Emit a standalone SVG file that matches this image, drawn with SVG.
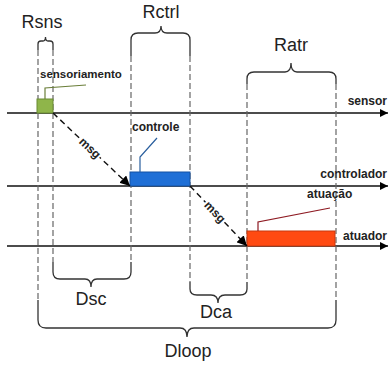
<svg xmlns="http://www.w3.org/2000/svg" width="390" height="365" viewBox="0 0 390 365">
<defs>
<marker id="ah" viewBox="0 0 10 10" refX="10" refY="5" markerWidth="8" markerHeight="8" markerUnits="userSpaceOnUse" orient="auto"><path d="M0,0 L10,5 L0,10 z" fill="#000"/></marker>
<marker id="am" viewBox="0 0 10 10" refX="10" refY="5" markerWidth="10" markerHeight="10" markerUnits="userSpaceOnUse" orient="auto"><path d="M0,0 L10,5 L0,10 z" fill="#000"/></marker>
</defs>
<style>
.big{font-family:"Liberation Sans",Arial,sans-serif;font-size:18px;fill:#222}
.lbl{font-family:"Liberation Sans",Arial,sans-serif;font-size:12px;font-weight:bold;fill:#222}
.axis{stroke:#111;stroke-width:1.5;fill:none}
.dash{stroke:#666;stroke-width:1.2;stroke-dasharray:6,3;fill:none}
.brace{stroke:#333;stroke-width:1.3;fill:none}
.msg{stroke:#111;stroke-width:1.4;stroke-dasharray:6,4;fill:none}
.mtxt{font-family:"Liberation Sans",Arial,sans-serif;font-size:12px;font-weight:bold;fill:#222;stroke:#fff;stroke-width:4;paint-order:stroke;dominant-baseline:central}
</style>
<rect width="390" height="365" fill="#fff"/>
<g id="timelines">
<line class="axis" x1="7" y1="113" x2="388" y2="113" marker-end="url(#ah)"/>
<line class="axis" x1="7" y1="186" x2="388" y2="186" marker-end="url(#ah)"/>
<line class="axis" x1="7" y1="246" x2="388" y2="246" marker-end="url(#ah)"/>
<text class="lbl" x="387" y="105" text-anchor="end">sensor</text>
<text class="lbl" x="387" y="178" text-anchor="end">controlador</text>
<text class="lbl" x="387" y="240" text-anchor="end">atuador</text>
</g>
<g id="guides">
<line class="dash" x1="38" y1="50" x2="38" y2="300"/>
<line class="dash" x1="53" y1="50" x2="53" y2="262"/>
<line class="dash" x1="131" y1="56" x2="131" y2="262"/>
<line class="dash" x1="190" y1="56" x2="190" y2="282"/>
<line class="dash" x1="247" y1="84" x2="247" y2="282"/>
<line class="dash" x1="336" y1="84" x2="336" y2="300"/>
</g>
<g id="Rsns">
<path class="brace" d="M38,50 V44 Q38,41 41,41 H43 Q45.5,41 45.5,37 Q45.5,41 48,41 H50 Q53,41 53,44 V50"/>
<text class="big" x="42" y="28" text-anchor="middle">Rsns</text>
</g>
<g id="Rctrl">
<path class="brace" d="M131,56 V40 Q131,33 138,33 H155 Q161,33 161,26 Q161,33 167,33 H183 Q190,33 190,40 V56"/>
<text class="big" x="161" y="18" text-anchor="middle">Rctrl</text>
</g>
<g id="Ratr">
<path class="brace" d="M247,84 V79 Q247,72 254,72 H285 Q291,72 291,63 Q291,72 297,72 H329 Q336,72 336,79 V84"/>
<text class="big" x="291" y="51" text-anchor="middle">Ratr</text>
</g>
<g id="Dsc">
<path class="brace" d="M53,262 V272 Q53,279 60,279 H85 Q91,279 91,287 Q91,279 97,279 H124 Q131,279 131,272 V262"/>
<text class="big" x="91" y="305" text-anchor="middle">Dsc</text>
</g>
<g id="Dca">
<path class="brace" d="M190,282 V289 Q190,295 197,295 H211 Q218,295 218,303 Q218,295 225,295 H240 Q247,295 247,289 V282"/>
<text class="big" x="216" y="318" text-anchor="middle">Dca</text>
</g>
<g id="Dloop">
<path class="brace" d="M38,300 V320 Q38,328 46,328 H180 Q187,328 187,337 Q187,328 194,328 H328 Q336,328 336,320 V300"/>
<text class="big" x="188" y="357" text-anchor="middle">Dloop</text>
</g>
<g id="sensoriamento">
<rect x="37" y="99" width="16" height="14" fill="#8fb54a" stroke="#6a8c32" stroke-width="1"/>
<polyline points="45,99 45,88 86,85" fill="none" stroke="#6b7f3a" stroke-width="1.2"/>
<text class="lbl" x="40" y="78" style="font-size:11.5px">sensoriamento</text>
</g>
<g id="controle">
<rect x="130" y="172" width="60" height="14" fill="#1f6fd6" stroke="#1552a3" stroke-width="1"/>
<polyline points="140,172 140,157 157,138" fill="none" stroke="#2a5f9e" stroke-width="1.2"/>
<text class="lbl" x="132" y="131">controle</text>
</g>
<g id="atuacao">
<rect x="247" y="231" width="88" height="15" fill="#ff4a12" stroke="#c8380e" stroke-width="1"/>
<polyline points="258,231 258,222 330,208" fill="none" stroke="#8e1a22" stroke-width="1.2"/>
<text class="lbl" x="307" y="198">atuação</text>
</g>
<g id="connectors">
<line class="msg" x1="53" y1="113" x2="130" y2="186" marker-end="url(#am)"/>
<line class="msg" x1="190" y1="186" x2="247" y2="246" marker-end="url(#am)"/>
<text class="mtxt" x="0" y="0" text-anchor="middle" transform="translate(90,148) rotate(43.5)">msg</text>
<text class="mtxt" x="0" y="0" text-anchor="middle" transform="translate(215,212) rotate(46.5)">msg</text>
</g>
</svg>
